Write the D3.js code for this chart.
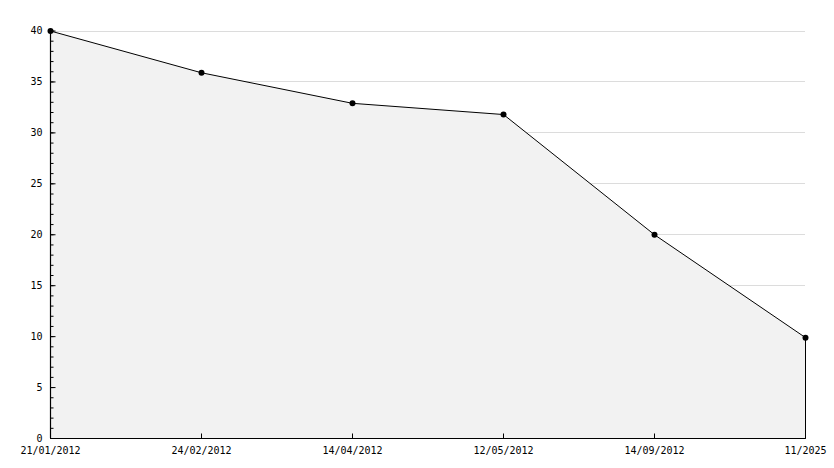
<!DOCTYPE html>
<html>
  <head>
    <title>Area Chart</title>
    <style>
      body { margin: 0; background: #fff; }
      text { font-family: "DejaVu Sans Mono", monospace; font-size: 10px; fill: #000; }
    </style>
  </head>
  <body>
    <svg id='chart'></svg>
    <script src="https://d3js.org/d3.v7.min.js"></script>
    <script>

const dates = ['21/01/2012', '24/02/2012', '14/04/2012', '12/05/2012', '14/09/2012', '11/2025'];
const values = [40, 35.9, 32.9, 31.8, 20, 9.9];
const yTicks = [0, 5, 10, 15, 20, 25, 30, 35, 40];

const width = 834, height = 468;
const margin = {top: 30.5, right: 29, bottom: 30, left: 50};

const svg = d3.select('#chart')
  .attr('width', width)
  .attr('height', height);

const x = d3.scalePoint()
  .domain(dates)
  .range([margin.left, width - margin.right]);

const y = d3.scaleLinear()
  .domain([0, 40])
  .range([height - margin.bottom, margin.top]);

// grid lines
svg.append('g')
  .selectAll('line')
  .data(yTicks.slice(1))
  .enter().append('line')
  .attr('x1', margin.left)
  .attr('x2', width - margin.right)
  .attr('y1', d => Math.round(y(d)) + 0.5)
  .attr('y2', d => Math.round(y(d)) + 0.5)
  .attr('stroke', '#dcdcdc');

const data = dates.map((d, i) => ({date: d, value: values[i]}));

const area = d3.area()
  .x(d => x(d.date) + 0.5)
  .y0(y(0) + 0.5)
  .y1(d => y(d.value) + 0.5);

svg.append('path')
  .datum(data)
  .attr('d', area)
  .attr('fill', '#f2f2f2')
  .attr('stroke', '#000')
  .attr('stroke-width', 1);

// y axis: minor + major ticks drawn inside
const yAxis = svg.append('g')
  .attr('transform', `translate(${margin.left + 0.5},0)`);

yAxis.append('g')
  .call(d3.axisRight(y).ticks(40).tickSize(3).tickFormat(''))
  .call(g => g.select('.domain').remove());

yAxis.append('g')
  .call(d3.axisRight(y).tickValues(yTicks).tickSize(5).tickFormat(''))
  .call(g => g.select('.domain').remove());

yAxis.append('line')
  .attr('y1', y(0)).attr('y2', y(40))
  .attr('stroke', '#000').attr('stroke-width', 1.2);

yAxis.selectAll('.lbl')
  .data(yTicks)
  .enter().append('text')
  .attr('class', 'lbl')
  .attr('x', -8)
  .attr('y', d => y(d))
  .attr('dy', '0.35em')
  .attr('text-anchor', 'end')
  .text(d => d);

// x axis
const xAxis = svg.append('g')
  .attr('transform', `translate(0.5,${y(0) + 0.5})`);

xAxis.append('line')
  .attr('x1', x.range()[0]).attr('x2', x.range()[1])
  .attr('stroke', '#000').attr('stroke-width', 1.2);

xAxis.selectAll('.tk')
  .data(dates)
  .enter().append('line')
  .attr('class', 'tk')
  .attr('x1', d => x(d)).attr('x2', d => x(d))
  .attr('y1', 0).attr('y2', -5)
  .attr('stroke', '#000');

xAxis.selectAll('.lbl')
  .data(dates)
  .enter().append('text')
  .attr('class', 'lbl')
  .attr('x', d => x(d))
  .attr('y', 15)
  .attr('text-anchor', 'middle')
  .text(d => d);

// markers
svg.append('g')
  .selectAll('circle')
  .data(data)
  .enter().append('circle')
  .attr('cx', d => x(d.date) + 0.5)
  .attr('cy', d => y(d.value) + 0.5)
  .attr('r', 3)
  .attr('fill', '#000');

    </script>
  </body>
</html>
